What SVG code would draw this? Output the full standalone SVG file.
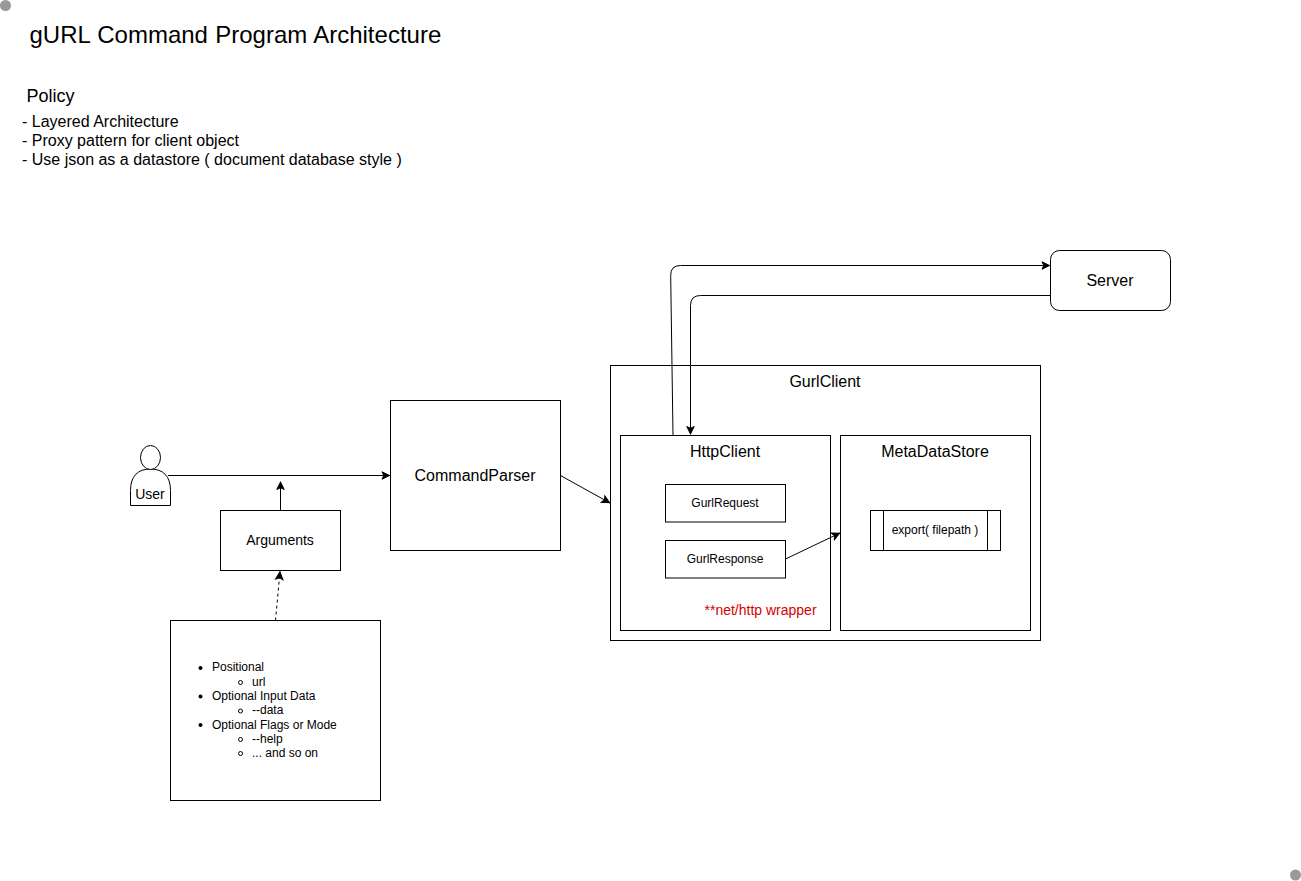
<svg xmlns="http://www.w3.org/2000/svg" width="1301" height="881" viewBox="0 0 1301 881">
<style>
text{font-family:"Liberation Sans",Arial,sans-serif;fill:#000}
.b{fill:#fff;stroke:#000;stroke-width:1}
.l{fill:none;stroke:#000;stroke-width:1}
.m{text-anchor:middle}
.f12{font-size:12px}
.f16{font-size:16px}
.f14{font-size:14px}
.f18{font-size:18px}
.f24{font-size:24px;word-spacing:0.6px}
.dot{fill:#999}
</style>
<defs>
<marker id="arr" markerUnits="userSpaceOnUse" markerWidth="14" markerHeight="14" refX="9" refY="7" orient="auto" viewBox="0 0 14 14">
<path d="M1 3.300 L8.500 7 L1 10.700 L2.800 7 Z" fill="#000" stroke="#000" stroke-width="1"/>
</marker>
</defs>
<circle class="dot" cx="5.5" cy="5.5" r="5.5"/>
<circle class="dot" cx="1295.5" cy="875" r="5.5"/>
<text x="29.5" y="43" class="f24">gURL Command Program Architecture</text>
<text x="26.500" y="101.500" class="f18">Policy</text>
<text x="22" y="127" class="f16">- Layered Architecture</text>
<text x="22" y="146" class="f16">- Proxy pattern for client object</text>
<text x="22" y="165" class="f16">- Use json as a datastore ( document database style )</text>

<g id="node-gurlclient"><rect class="b" x="610.500" y="365.500" width="430" height="275"/><text x="825" y="387" class="m f16">GurlClient</text></g>
<g id="node-httpclient"><rect class="b" x="620.500" y="435.500" width="210" height="195"/><text x="725" y="457" class="m f16">HttpClient</text></g>
<g id="node-metadatastore"><rect class="b" x="840.500" y="435.500" width="190" height="195"/><text x="935" y="457" class="m f16">MetaDataStore</text></g>
<g id="node-gurlrequest"><rect class="b" x="665.500" y="484.500" width="120" height="37.500"/><text x="725" y="507" class="m f12">GurlRequest</text></g>
<g id="node-gurlresponse"><rect class="b" x="665.500" y="540.500" width="120" height="37.500"/><text x="725" y="563" class="m f12">GurlResponse</text></g>
<g id="node-export"><rect class="b" x="870.500" y="510.500" width="130" height="40"/><path class="l" d="M883.500 510.500V550.500M987.500 510.500V550.500"/><text x="935" y="534" class="m f12">export( filepath )</text></g>
<g id="node-note"><text x="704.500" y="615" style="font-size:14px;fill:#d40000">**net/http wrapper</text></g>
<g id="node-server"><rect class="b" x="1050.500" y="250.500" width="120" height="60" rx="9" ry="9"/><text x="1110" y="286" class="m f16">Server</text></g>
<g id="node-commandparser"><rect class="b" x="390.500" y="400.500" width="170" height="150"/><text x="475" y="481" class="m f16">CommandParser</text></g>
<g id="node-arguments"><rect class="b" x="220.500" y="510.500" width="120" height="60"/><text x="280" y="545" class="m f14">Arguments</text></g>
<g id="node-user"><path class="b" d="M130.500 505.500V490.500C130.500 476 138 469 150.500 469C163 469 170.500 476 170.500 490.500V505.500Z"/><ellipse class="b" cx="150.500" cy="457.500" rx="10" ry="12"/><text x="150" y="499" class="m f14">User</text></g>
<g id="node-list"><rect class="b" x="170.500" y="620.500" width="210" height="180"/>
<g class="f12">
<circle cx="200.500" cy="668" r="2"/><text x="212" y="671">Positional</text>
<circle cx="240.500" cy="682.500" r="2" fill="#fff" stroke="#000"/><text x="252" y="686">url</text>
<circle cx="200.500" cy="696.500" r="2"/><text x="212" y="700">Optional Input Data</text>
<circle cx="240.500" cy="711" r="2" fill="#fff" stroke="#000"/><text x="252" y="714">--data</text>
<circle cx="200.500" cy="725" r="2"/><text x="212" y="729">Optional Flags or Mode</text>
<circle cx="240.500" cy="739.500" r="2" fill="#fff" stroke="#000"/><text x="252" y="743">--help</text>
<circle cx="240.500" cy="753.500" r="2" fill="#fff" stroke="#000"/><text x="252" y="757">... and so on</text>
</g></g>

<g id="connectors">
<path class="l" d="M168 475.500H390" marker-end="url(#arr)"/>
<path class="l" d="M280.500 510.500V481.500" marker-end="url(#arr)"/>
<path class="l" d="M275.500 620.500L280 571.500" stroke-dasharray="3 3" marker-end="url(#arr)"/>
<path class="l" d="M560.500 475.500L610 503" marker-end="url(#arr)"/>
<path class="l" d="M785.500 559L840 533" marker-end="url(#arr)"/>
<path class="l" d="M673 435.500L670.700 275.500Q670.500 265.500 680.500 265.500H1050" marker-end="url(#arr)"/>
<path class="l" d="M1050.500 295.500H700.500Q690.500 295.500 690.500 305.500V434.500" marker-end="url(#arr)"/>
</g>
</svg>
